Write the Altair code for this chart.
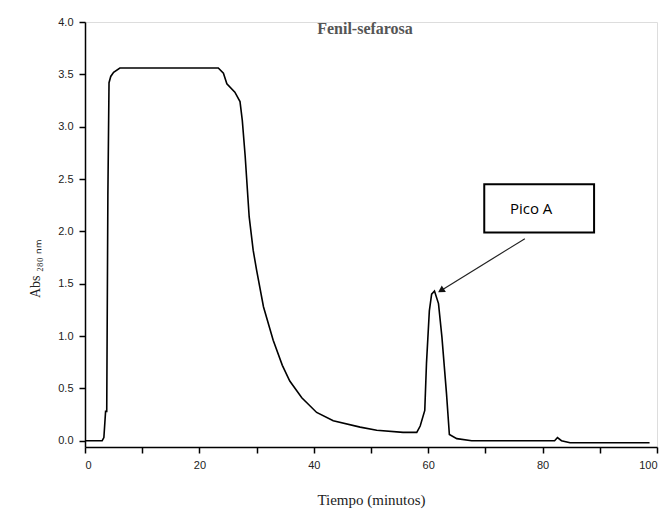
import altair as alt
import pandas as pd

# Chromatogram trace (time in minutes, absorbance)
tiempo = [0, 3.0, 3.3, 3.6, 3.8, 4.0, 4.2, 4.5, 5.0, 6.1, 10, 15, 20, 23.3, 24.2, 24.8,
          26.2, 27.1, 27.5, 28.0, 28.7, 29.4, 30.0, 31.2, 32.9, 34.5, 35.8, 37.9, 40.5,
          43.4, 48.1, 51.0, 55.6, 58.0, 58.6, 59.4, 59.7, 60.2, 60.6, 61.1, 61.8, 62.4,
          63.2, 63.7, 65.0, 67.6, 75, 82.1, 82.6, 83.3, 84.8, 90, 98.7]
absorb = [0.0, 0.0, 0.03, 0.28, 0.28, 2.35, 3.42, 3.48, 3.52, 3.56, 3.56, 3.56, 3.56, 3.56, 3.51, 3.41,
          3.33, 3.24, 3.06, 2.72, 2.14, 1.82, 1.63, 1.28, 0.96, 0.72, 0.57, 0.41, 0.27,
          0.19, 0.13, 0.10, 0.08, 0.08, 0.14, 0.29, 0.74, 1.24, 1.40, 1.43, 1.31, 0.99,
          0.45, 0.06, 0.02, 0.0, 0.0, 0.0, 0.03, 0.0, -0.02, -0.02, -0.02]

# Annotation
box_t = [69.8, 89.0]
box_abs = [1.99, 2.45]
label_text = ["Pico A"]
label_pos = [78.0, 2.21]
arrow_t = [76.9, 62.4]
arrow_abs = [1.93, 1.44]

df = pd.DataFrame({"t": tiempo, "a": absorb})
box_df = pd.DataFrame({"t1": [box_t[0]], "t2": [box_t[1]], "a1": [box_abs[0]], "a2": [box_abs[1]]})
lab_df = pd.DataFrame({"t": [label_pos[0]], "a": [label_pos[1]], "txt": label_text})
arr_df = pd.DataFrame({"t": arrow_t, "a": arrow_abs, "o": [0, 1]})
head_df = pd.DataFrame({"t": [arrow_t[1]], "a": [arrow_abs[1]]})

xvals = list(range(0, 101, 10))
yvals = [i * 0.25 for i in range(0, 17)]

xscale = alt.Scale(domain=[0, 100], nice=False, zero=False)
yscale = alt.Scale(domain=[-0.06, 4.0], nice=False, zero=False)

xaxis = alt.Axis(values=xvals, labelExpr="datum.value % 20 == 0 ? datum.label : ''",
                 grid=False, tickSize=6, domainColor="black", tickColor="black",
                 domainWidth=1.5, tickWidth=1.5,
                 labelFont="Liberation Sans", labelFontSize=11, labelColor="#222",
                 labelPadding=6,
                 title="Tiempo (minutos)", titleFont="Liberation Serif", titleFontSize=15,
                 titleFontWeight="normal", titleColor="#222", titleY=52, titleBaseline="middle")
yaxis = alt.Axis(values=yvals, labelExpr="datum.value % 0.5 == 0 ? format(datum.value, '.1f') : ''",
                 grid=False, tickSize=6, domainColor="black", tickColor="black",
                 domainWidth=1.5, tickWidth=1.5,
                 labelFont="Liberation Sans", labelFontSize=11, labelColor="#222",
                 labelPadding=6,
                 title="Abs ₂₈₀ ₙₘ", titleFont="Liberation Serif", titleFontSize=14,
                 titleFontWeight="normal", titleColor="#222", titleX=-50, titleY=246,
                 titleAngle=270, titleBaseline="middle")

line = alt.Chart(df).mark_line(color="black", strokeWidth=1.6).encode(
    x=alt.X("t:Q", scale=xscale, axis=xaxis),
    y=alt.Y("a:Q", scale=yscale, axis=yaxis),
)

box = alt.Chart(box_df).mark_rect(fill="white", stroke="black", strokeWidth=2).encode(
    x=alt.X("t1:Q", scale=xscale), x2="t2:Q",
    y=alt.Y("a1:Q", scale=yscale), y2="a2:Q",
)

label = alt.Chart(lab_df).mark_text(font="Open Sans", fontSize=15, color="black",
                                     align="center", baseline="middle").encode(
    x=alt.X("t:Q", scale=xscale), y=alt.Y("a:Q", scale=yscale), text="txt:N"
)

arrow = alt.Chart(arr_df).mark_line(color="#222", strokeWidth=1.2).encode(
    x=alt.X("t:Q", scale=xscale), y=alt.Y("a:Q", scale=yscale), order="o:Q"
)

head = alt.Chart(head_df).mark_point(shape="triangle", filled=True, color="#111",
                                     size=60, angle=238, opacity=1).encode(
    x=alt.X("t:Q", scale=xscale), y=alt.Y("a:Q", scale=yscale)
)

chart = alt.layer(line, box, label, arrow, head).properties(
    width=572, height=425,
    title=alt.TitleParams("Fenil-sefarosa", font="Liberation Serif", fontSize=16,
                          fontWeight="bold", color="#555", anchor="middle",
                          dx=-6, dy=25),
    autosize=alt.AutoSizeParams(type="none"),
    padding={"left": 85, "top": 22, "right": 14, "bottom": 63},
).configure_view(stroke=None).configure(background="white")

chart.save("out.html", embed_options={"renderer": "svg", "actions": False})
